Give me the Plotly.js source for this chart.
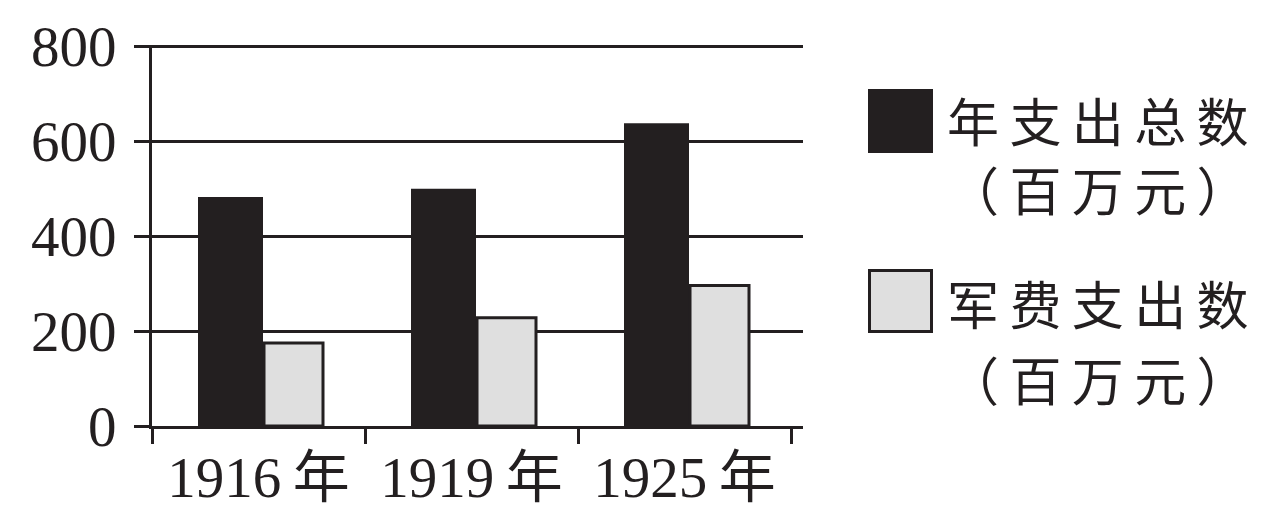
<!DOCTYPE html>
<html>
<head>
<meta charset="utf-8">
<script src="https://cdn.plot.ly/plotly-3.0.1.min.js"></script>
<style>
  html, body { margin: 0; padding: 0; background: #fff; }
  #chart { width: 1276px; height: 517px; }
</style>
</head>
<body>
<div id="chart"></div>
<script>
// ---- data ----
const years = ["1916\u2009年", "1919\u2009年", "1925\u2009年"];
const totalSpending = [483, 500, 638];      // 年支出总数（百万元）
const militarySpending = [175, 228, 296];   // 军费支出数（百万元）
const legendLines = [
  ["年支出总数", "（百万元）"],
  ["军费支出数", "（百万元）"]
];
const yTicks = [0, 200, 400, 600, 800];

// ---- style ----
const INK = "#231f20";
const LIGHT = "#dfdfdf";
const W = 1276, H = 517;
const L = 152, R = 803, T = 45, B = 426;
const pw = R - L, ph = B - T;
const CAT = 213;                      // px per category
const px = x => (x - L) / pw;
const py = y => (B - y) / ph;
const serif = "Liberation Serif, Noto Sans CJK SC, serif";
const cjk = "Noto Sans CJK SC, sans-serif";
const spaced = s => Array.from(s).join("\u2009");

const traces = [
  {
    type: "bar", x: years, y: totalSpending, name: legendLines[0].join(""),
    offset: -60.5 / CAT, width: 65 / CAT,
    marker: { color: INK, line: { color: INK, width: 0 } },
    hoverinfo: "x+y"
  },
  {
    type: "bar", x: years, y: militarySpending, name: legendLines[1].join(""),
    offset: 5.5 / CAT, width: 59 / CAT,
    marker: { color: LIGHT, line: { color: INK, width: 3 } },
    hoverinfo: "x+y"
  }
];

const yPerPx = 800 / (426 - 46.5);
const annY = [[119, 188], [302, 378]];
const annotations = [];
legendLines.forEach((lines, i) => {
  lines.forEach((t, j) => {
    annotations.push({
      xref: "paper", yref: "paper", x: px(1098), y: py(annY[i][j]),
      xanchor: "center", yanchor: "middle", showarrow: false,
      text: spaced(t), font: { family: cjk, size: 52, color: INK }
    });
  });
});

const layout = {
  width: W, height: H,
  margin: { l: L, r: W - R, t: T, b: H - B, pad: 0 },
  paper_bgcolor: "#fff", plot_bgcolor: "#fff",
  showlegend: false,
  barmode: "overlay",
  font: { family: serif, color: INK },
  xaxis: {
    type: "category",
    range: [-0.5, -0.5 + pw / CAT],
    tickson: "boundaries",
    ticks: "outside", ticklen: 15, tickwidth: 3, tickcolor: INK,
    showline: true, linecolor: INK, linewidth: 3,
    showgrid: false, zeroline: false,
    tickfont: { family: serif, size: 57, color: INK },
    ticklabelstandoff: 0
  },
  yaxis: {
    range: [0, ph * yPerPx],
    tickvals: yTicks, ticktext: yTicks.map(String),
    ticks: "outside", ticklen: 15, tickwidth: 3, tickcolor: INK,
    showline: true, linecolor: INK, linewidth: 3,
    showgrid: true, gridcolor: INK, gridwidth: 3,
    zeroline: false,
    tickfont: { family: serif, size: 57, color: INK },
    ticklabelstandoff: 6
  },
  shapes: [
    { type: "rect", xref: "paper", yref: "paper",
      x0: px(868), x1: px(933), y0: py(153), y1: py(89),
      fillcolor: INK, line: { width: 0 } },
    { type: "rect", xref: "paper", yref: "paper",
      x0: px(869.5), x1: px(931.5), y0: py(331.5), y1: py(270.5),
      fillcolor: LIGHT, line: { color: INK, width: 3 } }
  ],
  annotations: annotations
};

Plotly.newPlot("chart", traces, layout, { displayModeBar: false, staticPlot: true });
</script>
</body>
</html>
